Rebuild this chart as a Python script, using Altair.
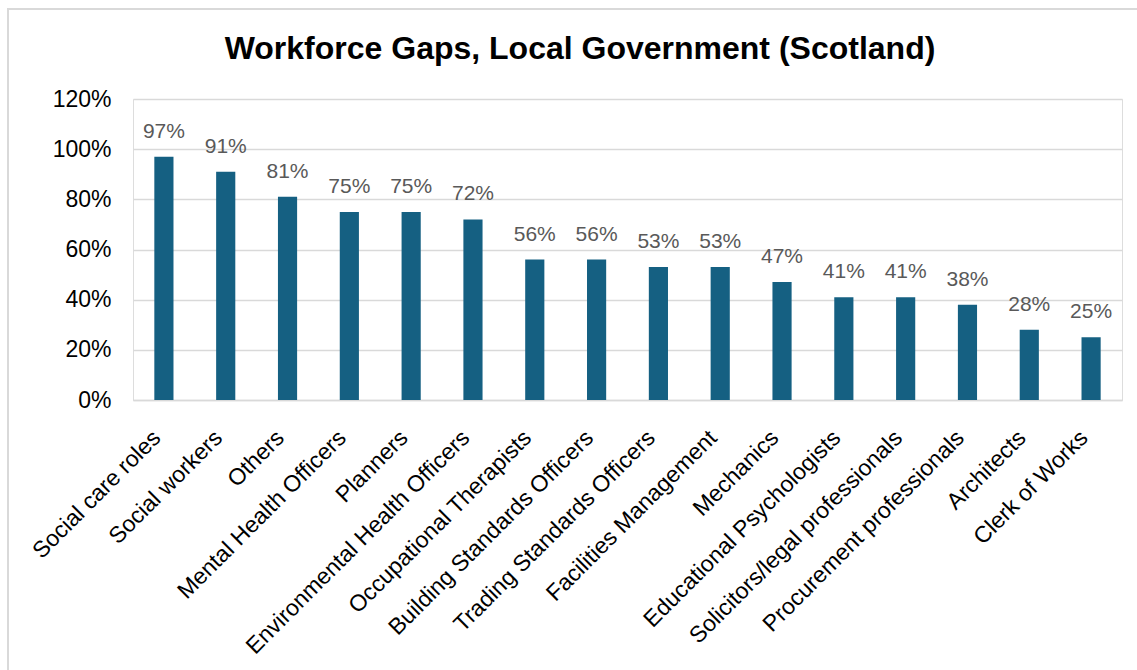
import altair as alt
import pandas as pd

categories = ["Social care roles", "Social workers", "Others", "Mental Health Officers",
              "Planners", "Environmental Health Officers", "Occupational Therapists",
              "Building Standards Officers", "Trading Standards Officers",
              "Facilities Management", "Mechanics", "Educational Psychologists",
              "Solicitors/legal professionals", "Procurement professionals",
              "Architects", "Clerk of Works"]
values = [0.97, 0.91, 0.81, 0.75, 0.75, 0.72, 0.56, 0.56, 0.53, 0.53,
          0.47, 0.41, 0.41, 0.38, 0.28, 0.25]
y_ticks = [0, 0.2, 0.4, 0.6, 0.8, 1.0, 1.2]
title_text = ["Workforce Gaps, Local Government (Scotland)"]

df = pd.DataFrame({"role": categories, "value": values})
tdf = pd.DataFrame({"t": title_text})

FONT = "Liberation Sans, Arial, sans-serif"

x = alt.X("role:N", sort=categories, title=None,
          scale=alt.Scale(paddingInner=0.69, paddingOuter=0.345),
          axis=alt.Axis(labelAngle=-45, labelAlign="right", labelBaseline="middle",
                        labelFontSize=23, labelColor="#000000", labelFont=FONT,
                        labelPadding=34, labelOffset=-7, ticks=False,
                        domainColor="#D9D9D9", domainWidth=1.5, labelLimit=400))
y = alt.Y("value:Q", title=None,
          scale=alt.Scale(domain=[0, 1.2], nice=False),
          axis=alt.Axis(values=y_ticks, format=".0%", labelFontSize=23,
                        labelColor="#000000", labelFont=FONT, labelPadding=22,
                        ticks=False, domain=False, gridColor="#D9D9D9",
                        gridWidth=1.5))

bars = alt.Chart(df).mark_bar(color="#156082").encode(x=x, y=y)

labels = alt.Chart(df).mark_text(
    dy=-19, baseline="alphabetic", fontSize=21, color="#595959", font=FONT
).encode(x=alt.X("role:N", sort=categories), y="value:Q",
         text=alt.Text("value:Q", format=".0%"))

border = alt.Chart(df).mark_rect(fill=None, stroke="#D9D9D9", strokeWidth=1.5).encode(
    x=alt.value(-125), x2=alt.value(1300), y=alt.value(-90), y2=alt.value(1000))

title = alt.Chart(tdf).mark_text(
    fontSize=32, font=FONT, fontWeight="bold", color="#000000",
    align="center", baseline="alphabetic"
).encode(text="t:N", x=alt.value(447), y=alt.value(-40))

chart = alt.layer(border, bars, labels, title).properties(
    width=989, height=301,
    autosize=alt.AutoSizeParams(type="none"),
    padding={"left": 133, "top": 99, "right": 15, "bottom": 270},
).configure_view(stroke=None).configure(background="#FFFFFF")

chart.save("out.html", embed_options={"renderer": "svg", "actions": False})
